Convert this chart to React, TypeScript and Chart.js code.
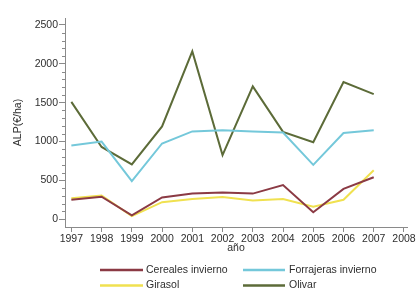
import { useEffect, useRef } from 'react';
import { Chart, registerables } from 'chart.js';

Chart.register(...registerables);

const years = [1997, 1998, 1999, 2000, 2001, 2002, 2003, 2004, 2005, 2006, 2007];
const cereales = [250, 290, 50, 280, 330, 345, 330, 440, 90, 390, 540];
const forrajeras = [950, 1000, 490, 975, 1130, 1145, 1130, 1115, 700, 1110, 1145];
const girasol = [270, 305, 40, 220, 260, 285, 240, 260, 160, 250, 630];
const olivar = [1510, 930, 705, 1195, 2160, 825, 1710, 1125, 990, 1765, 1610];

const xTickLabels = [1997, 1998, 1999, 2000, 2001, 2002, 2003, 2004, 2005, 2006, 2007, 2008];
const yTickLabels = [0, 500, 1000, 1500, 2000, 2500];

const seriesNames = ['Cereales invierno', 'Forrajeras invierno', 'Girasol', 'Olivar'];
const seriesColors = ['#8B3A44', '#74C8DA', '#F0E150', '#5C6B38'];
const seriesValues = [cereales, forrajeras, girasol, olivar];

const FONT = '"Liberation Sans", Arial, sans-serif';
const FSIZE = 10.5;
const TEXT = '#2e2e2e';
const AXIS = '#8a8a8a';

const minorTicks = {
  id: 'minorTicks',
  afterDraw(chart: any) {
    const ctx = chart.ctx;
    const y = chart.scales.y;
    const left = chart.chartArea.left;
    ctx.save();
    ctx.strokeStyle = AXIS;
    ctx.lineWidth = 1;
    for (let v = 100; v <= 2500; v += 100) {
      if (v % 500 === 0) continue;
      const py = Math.round(y.getPixelForValue(v)) + 0.5;
      ctx.beginPath();
      ctx.moveTo(left - 3, py);
      ctx.lineTo(left, py);
      ctx.stroke();
    }
    ctx.restore();
  },
};

const customLegend = {
  id: 'customLegend',
  afterDraw(chart: any) {
    const ctx = chart.ctx;
    const cols = [
      { x0: 100, x1: 143, tx: 146 },
      { x0: 243, x1: 285, tx: 289 },
    ];
    const rows = [270, 285.5];
    ctx.save();
    ctx.font = FSIZE + 'px ' + FONT;
    ctx.textBaseline = 'middle';
    ctx.textAlign = 'left';
    seriesNames.forEach((name, i) => {
      const c = cols[i % 2];
      const ry = rows[Math.floor(i / 2)];
      ctx.strokeStyle = seriesColors[i];
      ctx.lineWidth = 2.5;
      ctx.beginPath();
      ctx.moveTo(c.x0, ry);
      ctx.lineTo(c.x1, ry);
      ctx.stroke();
      ctx.fillStyle = TEXT;
      ctx.fillText(name, c.tx, ry);
    });
    ctx.restore();
  },
};

export default function App() {
  const ref = useRef<HTMLCanvasElement>(null);

  useEffect(() => {
    if (!ref.current) return;
    const chart = new Chart(ref.current, {
      type: 'line',
      data: {
        datasets: seriesNames.map((name, i) => ({
          label: name,
          data: years.map((yr, j) => ({ x: yr, y: seriesValues[i][j] })),
          borderColor: seriesColors[i],
          backgroundColor: seriesColors[i],
          borderWidth: 2,
          pointRadius: 0,
          tension: 0,
        })),
      },
      options: {
        animation: false,
        responsive: false,
        layout: { padding: { top: 18, left: 12, right: 10, bottom: 40 } },
        plugins: { legend: { display: false }, tooltip: { enabled: false } },
        scales: {
          x: {
            type: 'linear',
            min: 1996.79,
            max: 2008.1,
            afterFit: (s: any) => { s.height = 27; },
            afterBuildTicks: (s: any) => { s.ticks = xTickLabels.map((v) => ({ value: v })); },
            grid: { drawOnChartArea: false, tickLength: 5, color: AXIS },
            border: { color: AXIS },
            ticks: {
              autoSkip: false,
              maxRotation: 0,
              padding: 1,
              color: TEXT,
              font: { family: FONT, size: FSIZE },
              callback: (v: any) => String(v),
            },
            title: { display: true, text: 'año', padding: 0, color: TEXT, font: { family: FONT, size: FSIZE } },
          },
          y: {
            min: -100,
            max: 2590,
            afterFit: (s: any) => { s.width = 53; },
            afterBuildTicks: (s: any) => { s.ticks = yTickLabels.map((v) => ({ value: v })); },
            grid: { drawOnChartArea: false, tickLength: 6, color: AXIS },
            border: { color: AXIS },
            ticks: {
              autoSkip: false,
              padding: 1,
              color: TEXT,
              font: { family: FONT, size: FSIZE },
              callback: (v: any) => String(v),
            },
            title: { display: true, text: 'ALP(€/ha)', padding: 0, color: TEXT, font: { family: FONT, size: FSIZE } },
          },
        },
      },
      plugins: [minorTicks, customLegend],
    });
    return () => chart.destroy();
  }, []);

  return (
    <div style={{ position: 'fixed', left: 0, top: 0, width: 417, height: 294, background: '#fff' }}>
      <canvas ref={ref} width={417} height={294} />
    </div>
  );
}
